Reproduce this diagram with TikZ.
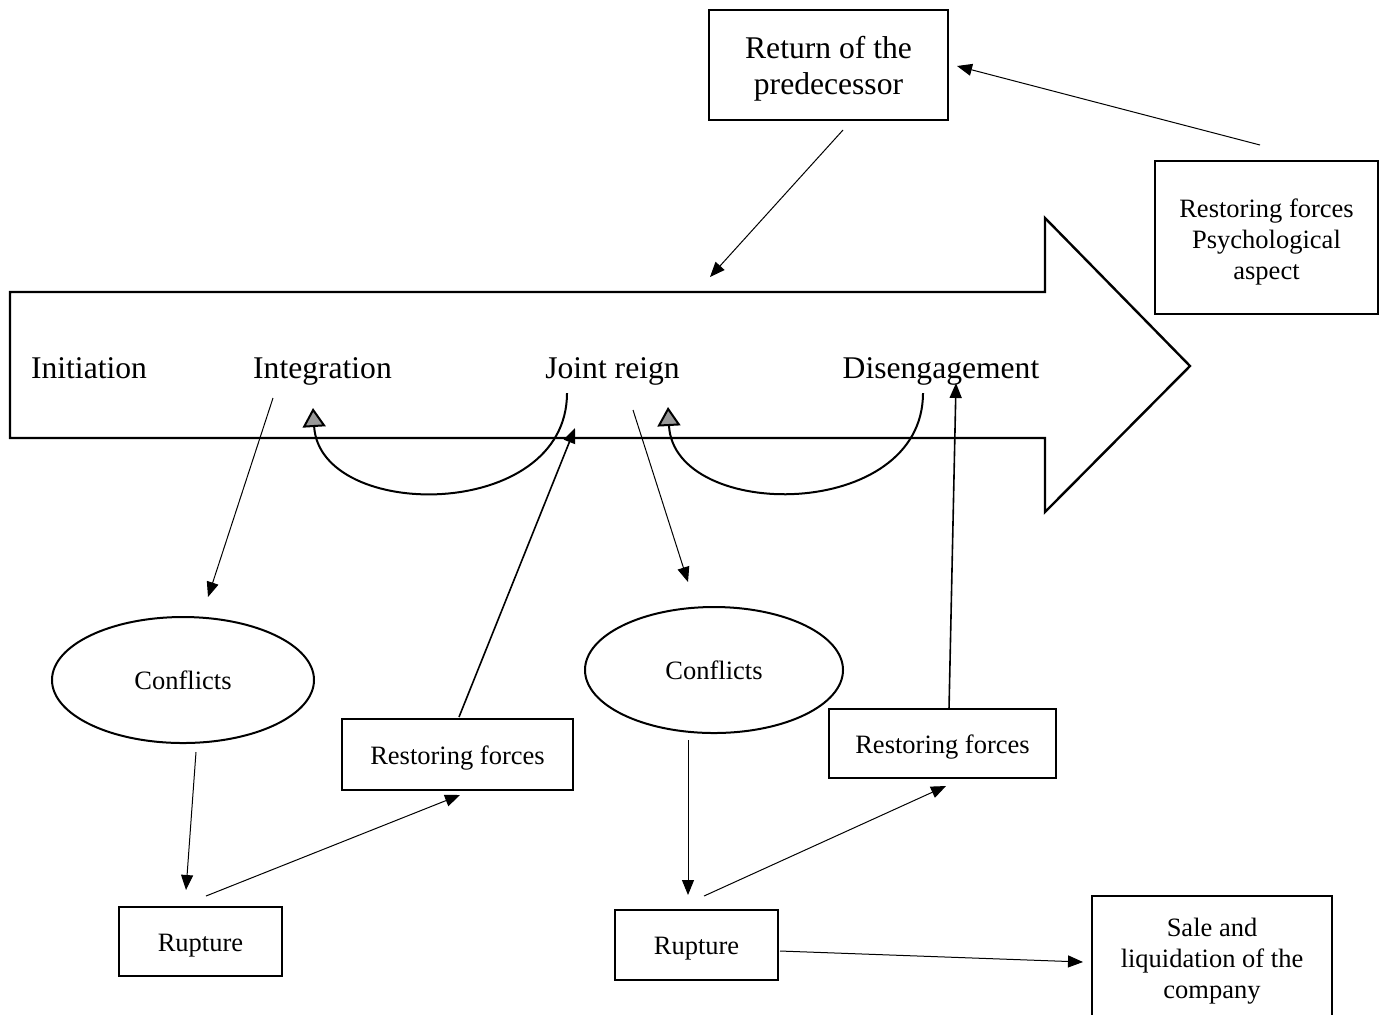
\documentclass[tikz,border=0pt]{standalone}
\usepackage{fontspec}
\setmainfont{Liberation Serif}
\usetikzlibrary{arrows.meta,shapes.geometric}
\newcommand\smfont{\fontsize{13.25pt}{15.5pt}\selectfont}
\newcommand\bgfont{\fontsize{15.8pt}{18pt}\selectfont}
\tikzset{
  box/.style={draw, line width=1pt, inner sep=0pt},
  oval/.style={draw, ellipse, line width=1pt, inner sep=0pt, font=\smfont},
  txt/.style={align=center, inner sep=0pt, font=\smfont},
  bigtxt/.style={txt, font=\bgfont},
  lab/.style={anchor=base, inner sep=0pt, font=\bgfont},
  arr/.style={-{Triangle[length=7.5pt,width=6pt]}, line width=0.5pt},
  arrthick/.style={arr, line width=0.8pt},
  loop/.style={-{Triangle[length=9.5pt,width=11.5pt,fill=gray!80]}, line width=1pt},
}
\begin{document}
\begin{tikzpicture}[x=0.5pt,y=-0.5pt]
\useasboundingbox (0,0) rectangle (1379,1014);
\clip (0,0) rectangle (1379,1014);
% big arrow
\draw[line width=1.2pt, line join=miter] (10,292) -- (1045,292) -- (1045,218) -- (1190,366) -- (1045,512) -- (1045,438) -- (10,438) -- cycle;
% labels on arrow
\node[lab] (init) at (89,378) {Initiation};
\node[lab] (integ) at (322.5,378) {Integration};
\node[lab] (joint) at (612.5,378) {Joint reign};
\node[lab] (dis) at (941,378) {Disengagement};
% boxes
\node[box, minimum width=119.5pt, minimum height=55pt] (ret) at (828.5,65) {};
\node[bigtxt] (ret-t) at ([yshift=-2pt]ret.center) {Return of the\\predecessor};
\node[box, minimum width=111.5pt, minimum height=76.5pt] (psy) at (1266.5,237.5) {};
\node[txt] (psy-t) at ([yshift=-2pt]psy.center) {Restoring forces\\Psychological\\aspect};
\node[oval, minimum width=131pt, minimum height=63pt] (c1) at (183,680) {Conflicts};
\node[oval, minimum width=129pt, minimum height=63pt] (c2) at (714,670) {Conflicts};
\node[box, minimum width=115.5pt, minimum height=35.5pt] (r1) at (457.5,754.5) {};
\node[txt] (r1-t) at ([yshift=-2pt]r1.center) {Restoring forces};
\node[box, minimum width=113.5pt, minimum height=34.5pt] (r2) at (942.5,743.5) {};
\node[txt] (r2-t) at ([yshift=-2pt]r2.center) {Restoring forces};
\node[box, minimum width=81.5pt, minimum height=34.5pt] (u1) at (200.5,941.5) {};
\node[txt] (u1-t) at ([yshift=-2pt]u1.center) {Rupture};
\node[box, minimum width=81.5pt, minimum height=35pt] (u2) at (696.5,945) {};
\node[txt] (u2-t) at ([yshift=-2pt]u2.center) {Rupture};
\node[box, minimum width=120pt, minimum height=62pt] (sale) at (1212,958) {};
\node[txt] (sale-t) at ([yshift=-1.5pt]sale.center) {Sale and\\liquidation of the\\company};
% free ends
\coordinate (retout) at (843,130);
\coordinate (arrin) at (710,277);
\coordinate (psyout) at (1260,145);
\coordinate (retin) at (957,66);
\coordinate (integout) at (273,398);
\coordinate (c1in) at (208,597);
\coordinate (jointout) at (633,410);
\coordinate (c2in) at (688,582);
\coordinate (c1out) at (196,752);
\coordinate (u1in) at (186,890);
\coordinate (c2out) at (688,740);
\coordinate (u2in) at (688,895);
\coordinate (u1out) at (206,896);
\coordinate (r1in) at (460,795);
\coordinate (u2out) at (704,896);
\coordinate (r2in) at (946,786);
\coordinate (r1out) at (459,717);
\coordinate (jointin) at (575,428);
\coordinate (r2out) at (949,709);
\coordinate (disin) at (956,383);
\coordinate (u2side) at (780,951);
\coordinate (salein) at (1083,962);
\coordinate (l1s) at (567,393);
\coordinate (l1e) at (313,408);
\coordinate (l2s) at (923,393);
\coordinate (l2e) at (668,407);
% connectors
\draw[arr] (retout) -- (arrin);
\draw[arr] (psyout) -- (retin);
\draw[arr] (integout) -- (c1in);
\draw[arr] (jointout) -- (c2in);
\draw[arr] (c1out) -- (u1in);
\draw[arr] (c2out) -- (u2in);
\draw[arr] (u1out) -- (r1in);
\draw[arr] (u2out) -- (r2in);
\draw[arrthick] (r1out) -- (jointin);
\draw[arrthick] (r2out) -- (disin);
\draw[arr] (u2side) -- (salein);
\draw[loop] (l1s) .. controls (567,522) and (320,522) .. (l1e);
\draw[loop] (l2s) .. controls (923,522) and (674,522) .. (l2e);
\end{tikzpicture}
\end{document}
